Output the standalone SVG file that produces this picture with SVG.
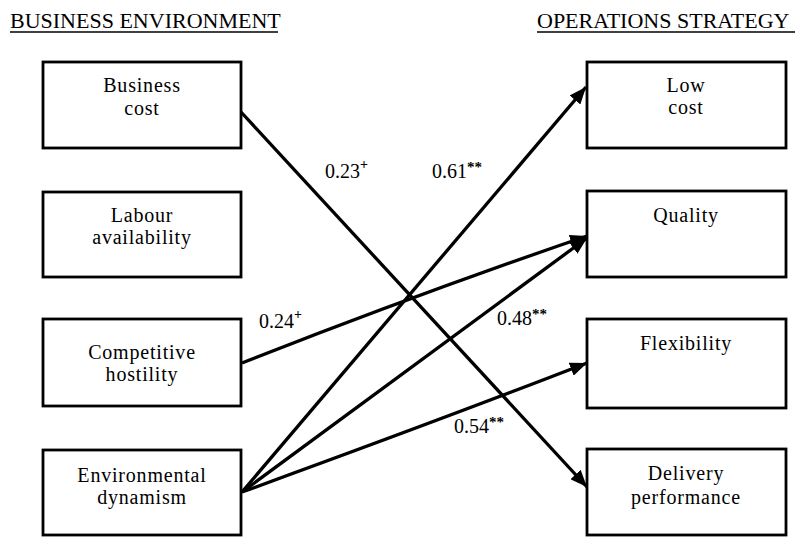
<svg xmlns="http://www.w3.org/2000/svg" width="796" height="537" viewBox="0 0 796 537">
  <style>
    .box { fill: #fff; stroke: #000; stroke-width: 2.8; }
    .lbl { font-family: "Liberation Serif", "Times New Roman", serif; font-size: 20px; letter-spacing: 0.8px; text-anchor: middle; fill: #000; }
    .hdr { font-family: "Liberation Serif", "Times New Roman", serif; font-size: 22px; fill: #000; }
    .coef { font-family: "Liberation Serif", "Times New Roman", serif; font-size: 20px; fill: #000; }
    .sup { font-size: 14px; font-weight: bold; }
    .ast { font-size: 15px; font-weight: bold; }
    .path { fill: none; stroke: #000; stroke-width: 3.3; marker-end: url(#arrow); }
    .rule { stroke: #000; stroke-width: 1.5; }
  </style>
  <defs>
    <marker id="arrow" markerUnits="userSpaceOnUse" markerWidth="18" markerHeight="14" refX="17" refY="7" orient="auto">
      <path d="M0,0 L17,7 L0,14 z" fill="#000"/>
    </marker>
  </defs>
  <rect width="796" height="537" fill="#fff"/>

  <!-- column headings -->
  <g id="heading-left">
    <text class="hdr" x="10" y="28">BUSINESS ENVIRONMENT</text>
    <line class="rule" x1="10" y1="32" x2="278" y2="32"/>
  </g>
  <g id="heading-right">
    <text class="hdr" x="537" y="28">OPERATIONS STRATEGY</text>
    <line class="rule" x1="537" y1="32" x2="795" y2="32"/>
  </g>

  <!-- connectors -->
  <g id="connectors">
    <path class="path" d="M241,112 L587,487"/>
    <path class="path" d="M242,363 Q415,295 587,236"/>
    <path class="path" d="M242,492 L586,87"/>
    <path class="path" d="M242,492 L587,238"/>
    <path class="path" d="M242,492 Q440,420 587,363"/>
  </g>

  <!-- path coefficients -->
  <g id="coefficients">
    <text class="coef" x="325" y="178">0.23<tspan class="sup" dy="-9">+</tspan></text>
    <text class="coef" x="432" y="178">0.61<tspan class="ast" dy="-6">**</tspan></text>
    <text class="coef" x="259" y="328">0.24<tspan class="sup" dy="-9">+</tspan></text>
    <text class="coef" x="497" y="325">0.48<tspan class="ast" dy="-6">**</tspan></text>
    <text class="coef" x="454" y="433">0.54<tspan class="ast" dy="-6">**</tspan></text>
  </g>

  <!-- business environment factors -->
  <g id="business-cost">
    <rect class="box" x="43" y="62" width="198" height="86"/>
    <text class="lbl" x="142" y="92">Business</text>
    <text class="lbl" x="142" y="115">cost</text>
  </g>
  <g id="labour-availability">
    <rect class="box" x="43" y="192" width="198" height="85"/>
    <text class="lbl" x="142" y="222">Labour</text>
    <text class="lbl" x="142" y="244">availability</text>
  </g>
  <g id="competitive-hostility">
    <rect class="box" x="43" y="319" width="198" height="87"/>
    <text class="lbl" x="142" y="359">Competitive</text>
    <text class="lbl" x="142" y="381">hostility</text>
  </g>
  <g id="environmental-dynamism">
    <rect class="box" x="43" y="450" width="198" height="85"/>
    <text class="lbl" x="142" y="482">Environmental</text>
    <text class="lbl" x="142" y="504">dynamism</text>
  </g>

  <!-- operations strategy priorities -->
  <g id="low-cost">
    <rect class="box" x="587" y="62" width="199" height="86"/>
    <text class="lbl" x="686" y="92">Low</text>
    <text class="lbl" x="686" y="114">cost</text>
  </g>
  <g id="quality">
    <rect class="box" x="587" y="191" width="199" height="86"/>
    <text class="lbl" x="686" y="222">Quality</text>
  </g>
  <g id="flexibility">
    <rect class="box" x="587" y="319" width="199" height="89"/>
    <text class="lbl" x="686" y="350">Flexibility</text>
  </g>
  <g id="delivery-performance">
    <rect class="box" x="587" y="449" width="199" height="86"/>
    <text class="lbl" x="686" y="480">Delivery</text>
    <text class="lbl" x="686" y="504">performance</text>
  </g>
</svg>
